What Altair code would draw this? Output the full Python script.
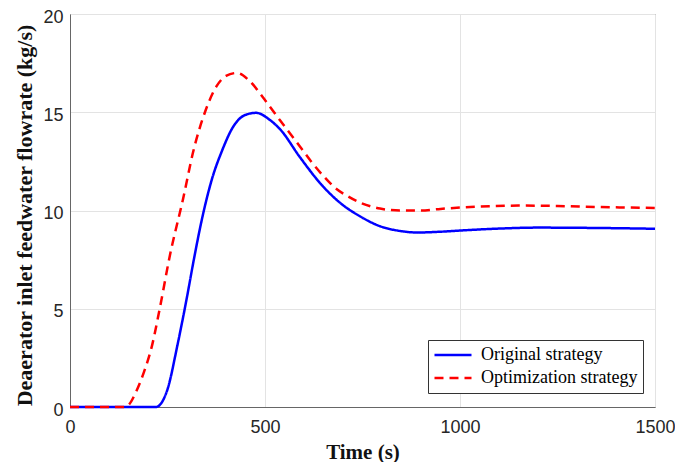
import altair as alt
import pandas as pd

series_names = ["Original strategy", "Optimization strategy"]

orig_t = [0, 50, 100, 150, 200, 220, 230, 250, 275, 300, 318, 341, 364, 390, 418, 449, 477, 513, 538,
          590, 641, 692, 744, 795, 846, 890, 950, 1000, 1100, 1200, 1300, 1400, 1500]
orig_v = [0, 0, 0, 0, 0, 0, 0.1, 0.9, 3.1, 5.6, 7.55, 9.8, 11.6, 13.05, 14.25, 14.86, 14.97, 14.6, 14.15,
          12.7, 11.4, 10.4, 9.7, 9.2, 8.96, 8.88, 8.92, 8.98, 9.08, 9.13, 9.12, 9.1, 9.07]

opt_t = [0, 50, 100, 140, 150, 170, 190, 210, 230, 256, 290, 316, 346, 375, 400, 428, 460, 495, 538,
         590, 620, 650, 680, 710, 744, 795, 846, 900, 950, 1000, 1075, 1150, 1250, 1350, 1500]
opt_v = [0, 0, 0, 0, 0.1, 0.8, 1.8, 3.1, 5.0, 7.7, 10.6, 13.0, 15.0, 16.3, 16.85, 17.0, 16.6, 15.75, 14.6,
         13.25, 12.45, 11.75, 11.15, 10.75, 10.4, 10.1, 10.0, 10.0, 10.08, 10.15, 10.22, 10.25, 10.23, 10.18, 10.13]

x_ticks = [0, 500, 1000, 1500]
y_ticks = [0, 5, 10, 15, 20]

df = pd.concat([
    pd.DataFrame({"t": orig_t, "v": orig_v, "s": series_names[0]}),
    pd.DataFrame({"t": opt_t, "v": opt_v, "s": series_names[1]}),
], ignore_index=True)

legend = alt.Legend(
    title=None, orient="none", legendX=358, legendY=326,
    strokeColor="#333333", fillColor="white", padding=5,
    labelFont="Liberation Serif", labelFontSize=18, labelColor="black",
    symbolType="stroke", symbolSize=1370, symbolStrokeWidth=2.5,
    clipHeight=20, rowPadding=3, labelOffset=8,
)

chart = alt.Chart(df).mark_line(strokeWidth=2.5, interpolate="monotone").encode(
    x=alt.X("t:Q", scale=alt.Scale(domain=[0, 1500], nice=False),
            axis=alt.Axis(values=x_ticks, format="d", title="Time (s)", labelFlush=False,
                          titleY=51, titleBaseline="alphabetic")),
    y=alt.Y("v:Q", scale=alt.Scale(domain=[0, 20], nice=False),
            axis=alt.Axis(values=y_ticks, format="d", title="Deaerator inlet feedwater flowrate (kg/s)",
                          titleX=-46, titleY=201, titleBaseline="middle", titleFontSize=22,
                          labelOffset=3, labelFlush=False)),
    color=alt.Color("s:N", scale=alt.Scale(domain=series_names, range=["#0000ff", "#ff0000"]), legend=legend),
    strokeDash=alt.StrokeDash("s:N", scale=alt.Scale(domain=series_names, range=[[1, 0], [9, 6]]), legend=legend),
).properties(
    width=585, height=393,
    autosize=alt.AutoSizeParams(type="none"),
    padding={"left": 62, "top": 6, "right": 20, "bottom": 55},
).configure_view(
    stroke="#666666", strokeWidth=1
).configure_axis(
    labelFont="Liberation Sans", labelFontSize=18, labelColor="#262626",
    titleFont="Liberation Serif", titleFontSize=21, titleFontWeight="bold", titleColor="#111111",
    gridColor="#e3e3e3", gridWidth=1, domainColor="#666666", tickSize=0,
).configure_axisX(labelPadding=11).configure_axisY(labelPadding=7)

chart.save("out.html", embed_options={"renderer": "svg", "actions": False})
